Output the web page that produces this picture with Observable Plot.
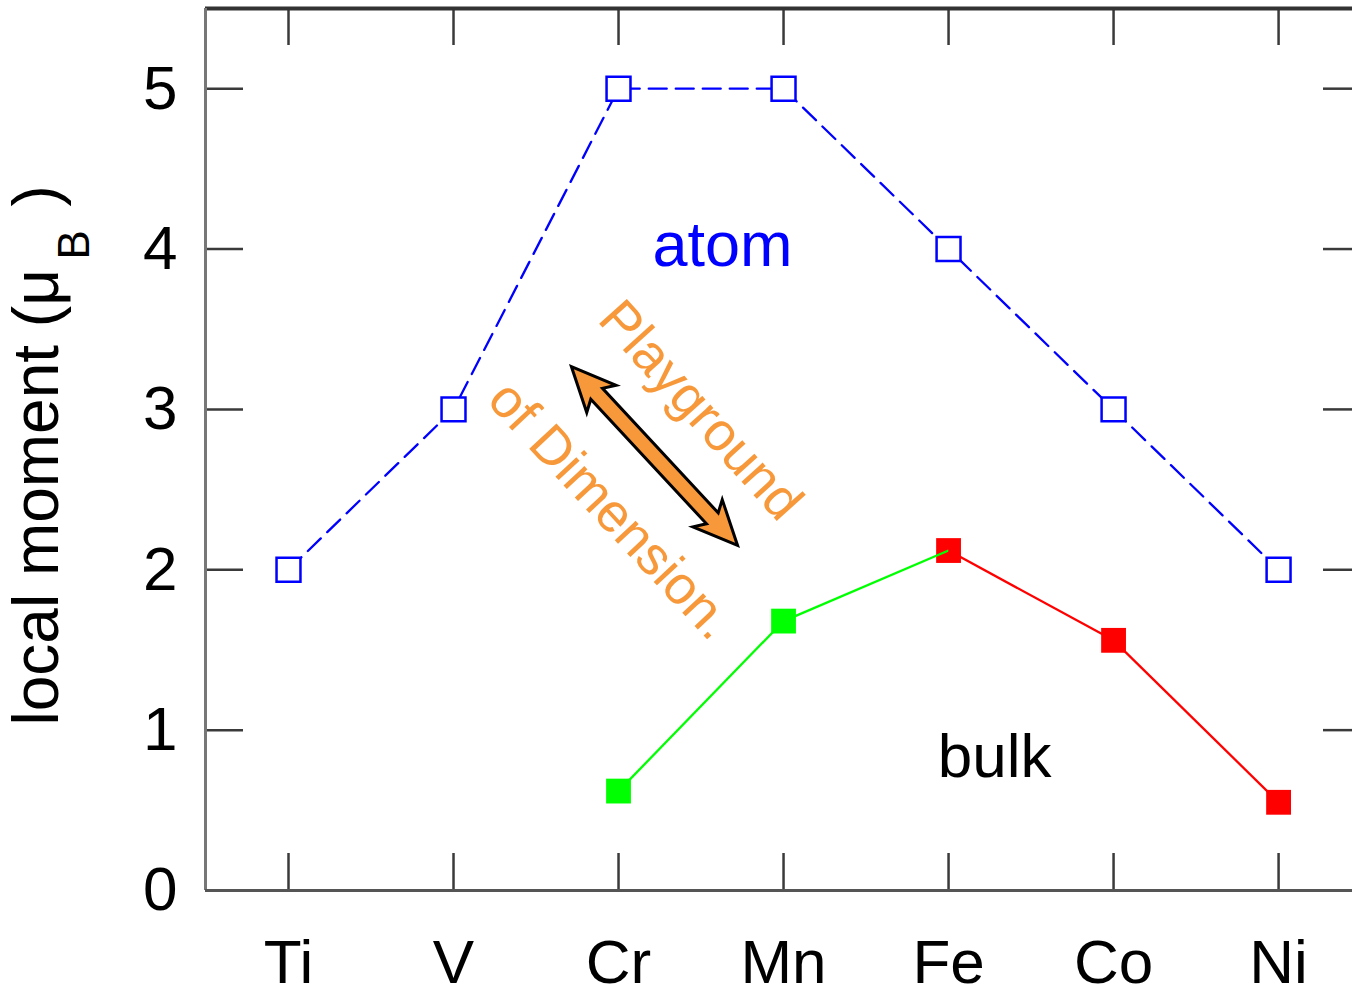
<!DOCTYPE html>
<html><head><meta charset="utf-8">
<script src="https://cdn.jsdelivr.net/npm/d3@7"></script>
<script src="https://cdn.jsdelivr.net/npm/@observablehq/plot@0.6"></script>
<style>html,body{margin:0;padding:0;background:#fff;overflow:hidden;}</style>
</head><body><div id="chart"></div>
<script>
// ---- data ----
const elements = ["Ti", "V", "Cr", "Mn", "Fe", "Co", "Ni"];
const atomMoment = [2, 3, 5, 5, 4, 3, 2];
const bulkElements = ["Cr", "Mn", "Fe", "Co", "Ni"];
const bulkMoment = [0.62, 1.68, 2.12, 1.56, 0.55];
const bulkOrder = ["AFM", "AFM", "FM", "FM", "FM"];
const yTicks = [0, 1, 2, 3, 4, 5];

// ---- derived tables ----
const atom = elements.map((e, i) => ({i, e, m: atomMoment[i]}));
const bulk = bulkElements.map((e, k) => ({i: elements.indexOf(e), e, m: bulkMoment[k], order: bulkOrder[k]}));
const bulkSegs = d3.pairs(bulk).map(([a, b]) => ({x1: a.i, y1: a.m, x2: b.i, y2: b.m, order: a.order}));
const xIdx = d3.range(elements.length);

// ---- layout ----
const W = 1352, H = 998, ML = 205, MR = 0, MT = 8, MB = 108;
const fw = W - ML - MR, fh = H - MT - MB;
const xDomain = [-0.503, 6.448], yDomain = [0, 5.5];
const font = "'Liberation Sans', Arial, Helvetica, sans-serif";
const orange = "#f7993a";
const tickColor = "#3a3a3a";

const doubleArrow = {
  draw(ctx, l) {
    const hl = 44, hw = 20, sw = 8, n = 7;
    ctx.moveTo(0, 0);
    ctx.lineTo(hw, -hl);
    ctx.lineTo(sw, -(hl - n));
    ctx.lineTo(sw, -(l - hl + n));
    ctx.lineTo(hw, -(l - hl));
    ctx.lineTo(0, -l);
    ctx.lineTo(-hw, -(l - hl));
    ctx.lineTo(-sw, -(l - hl + n));
    ctx.lineTo(-sw, -(hl - n));
    ctx.lineTo(-hw, -hl);
    ctx.closePath();
  }
};

const chart = Plot.plot({
  width: W, height: H,
  marginLeft: ML, marginRight: MR, marginTop: MT, marginBottom: MB,
  style: {fontFamily: font, fontSize: "62px", background: "#fff", color: "#000"},
  x: {domain: xDomain},
  y: {domain: yDomain},
  color: {domain: ["AFM", "FM"], range: ["#00ff00", "#ff0000"]},
  marks: [
    // axes labels
    Plot.axisX({ticks: xIdx, tickFormat: i => elements[i], tickSize: 0, tickPadding: 48, fontSize: 62, label: null}),
    Plot.axisY({ticks: yTicks, tickFormat: d3.format("d"), tickSize: 0, tickPadding: 28, fontSize: 62, label: null}),
    // inward ticks
    Plot.ruleX(xIdx, {x: d => d, insetTop: fh - 37, stroke: tickColor, strokeWidth: 2.5}),
    Plot.ruleX(xIdx, {x: d => d, insetBottom: fh - 37, stroke: tickColor, strokeWidth: 2.5}),
    Plot.ruleY(yTicks, {y: d => d, insetRight: fw - 38, stroke: tickColor, strokeWidth: 2.5}),
    Plot.ruleY(yTicks, {y: d => d, insetLeft: fw - 29, stroke: tickColor, strokeWidth: 2.5}),
    // frame lines
    Plot.ruleY([yDomain[1]], {stroke: "#333", strokeWidth: 4}),
    Plot.ruleX([xDomain[0]], {stroke: "#777", strokeWidth: 3}),
    Plot.ruleY([0], {stroke: "#555", strokeWidth: 3}),
    // y label
    Plot.text(["local moment (μ"], {text: d => d, frameAnchor: "left", rotate: -90, textAnchor: "start", lineAnchor: "bottom", dx: -148, dy: 276, fontSize: 64}),
    Plot.text(["B"], {text: d => d, frameAnchor: "left", rotate: -90, textAnchor: "start", lineAnchor: "bottom", dx: -117, dy: -190, fontSize: 44}),
    Plot.text([")"], {text: d => d, frameAnchor: "left", rotate: -90, textAnchor: "start", lineAnchor: "bottom", dx: -148, dy: -243, fontSize: 64}),
    // atom series
    Plot.line(atom, {x: "i", y: "m", stroke: "#0000ff", strokeWidth: 2.3, strokeDasharray: "18,9"}),
    Plot.dot(atom, {x: "i", y: "m", symbol: "square", r: 13.5, stroke: "#0000ff", strokeWidth: 2.5, fill: "#fff"}),
    // bulk series
    Plot.dot(bulk, {x: "i", y: "m", symbol: "square", r: 14, fill: "order"}),
    Plot.link(bulkSegs, {x1: "x1", y1: "y1", x2: "x2", y2: "y2", stroke: "order", strokeWidth: 2.3}),
    // annotations
    Plot.text(["atom"], {text: d => d, x: 2.63, y: 3.897, lineAnchor: "bottom", fill: "#0000ff", fontSize: 63}),
    Plot.text(["bulk"], {text: d => d, x: 4.279, y: 0.705, lineAnchor: "bottom", fill: "#000", fontSize: 62}),
    Plot.text(["Playground"], {text: d => d, x: 2.497, y: 2.993, rotate: 48, fill: orange, fontSize: 54}),
    Plot.text(["of Dimension."], {text: d => d, x: 1.952, y: 2.37, rotate: 47, fill: orange, fontSize: 54}),
    Plot.vector([0], {x: 2.218, y: 2.709, length: 244, rotate: 137.1, anchor: "middle", shape: doubleArrow, fill: orange, stroke: "#000", strokeWidth: 3, strokeLinejoin: "miter"})
  ]
});
document.getElementById("chart").append(chart);
</script>
</body></html>
